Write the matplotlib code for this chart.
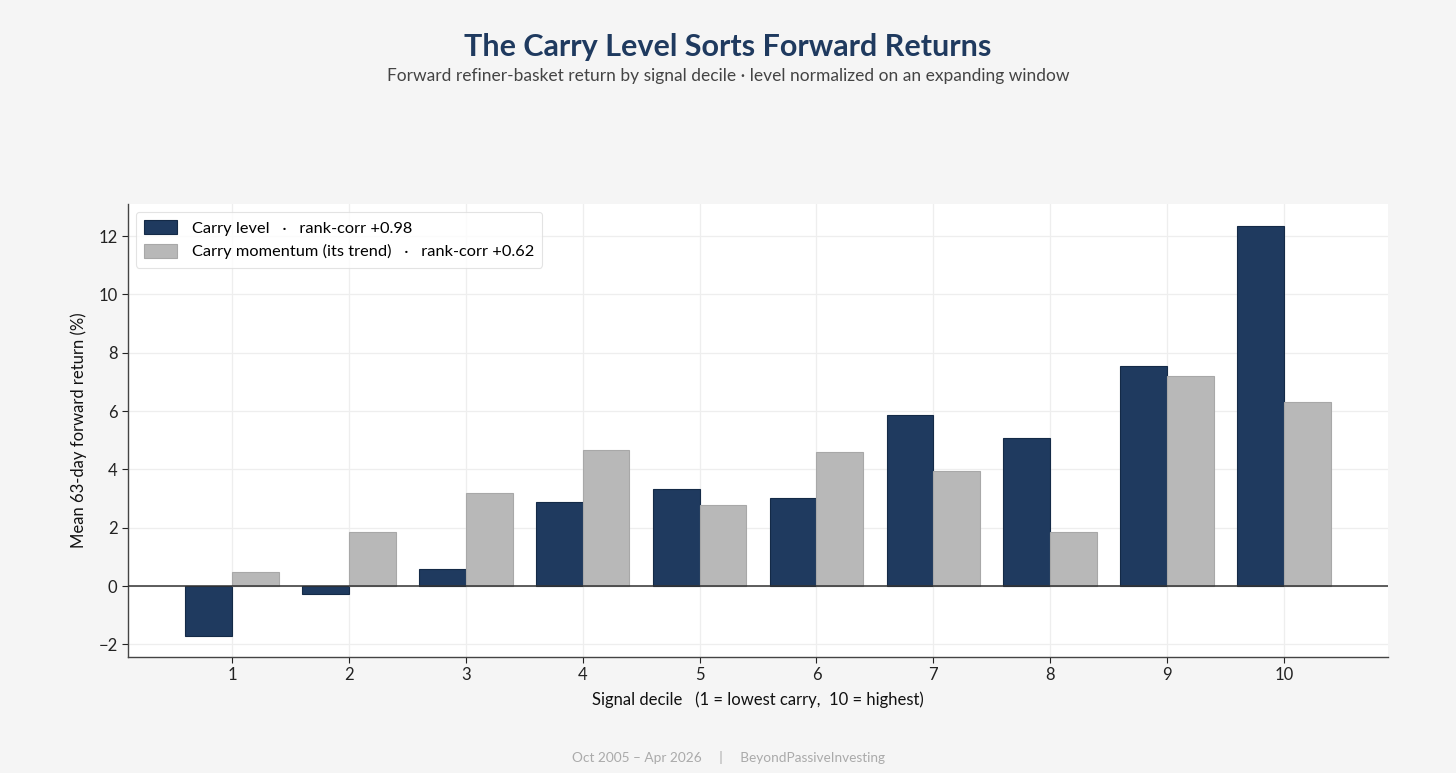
import numpy as np
import matplotlib.pyplot as plt

# Values
deciles = np.arange(1, 11)
carry_level = [-1.71, -0.27, 0.58, 2.88, 3.33, 3.02, 5.86, 5.07, 7.54, 12.34]
carry_momentum = [0.50, 1.87, 3.19, 4.66, 2.78, 4.59, 3.94, 1.87, 7.20, 6.31]
level_label = "Carry level   ·   rank-corr +0.98"
momentum_label = "Carry momentum (its trend)   ·   rank-corr +0.62"

NAVY = "#1f3a5f"
GREY = "#b8b8b8"
BG = "#f5f5f5"

plt.rcParams["font.family"] = ["Lato", "DejaVu Sans"]

fig = plt.figure(figsize=(14.56, 7.73), dpi=100, facecolor=BG)
ax = fig.add_axes([128 / 1456, 1 - 657 / 773, 1260 / 1456, 453 / 773])
ax.set_facecolor("white")

width = 0.4
ax.bar(deciles - width, carry_level, width=width, align="edge", color=NAVY,
       edgecolor="#142a47", linewidth=0.8, label=level_label, zorder=3)
ax.bar(deciles, carry_momentum, width=width, align="edge", color=GREY,
       edgecolor="#a8a8a8", linewidth=0.8, label=momentum_label, zorder=3)

ax.axhline(0, color="#333333", linewidth=1.1, zorder=4)

ax.set_xlim(0.11, 10.89)
ax.set_ylim(-2.43, 13.1)
ax.set_xticks(deciles)
ax.set_yticks(np.arange(-2, 13, 2))
ax.set_yticklabels([f"{v}" if v >= 0 else f"\u2212{-v}" for v in range(-2, 13, 2)])
ax.tick_params(axis="both", labelsize=12, colors="#222222", length=4)

ax.grid(True, color="#eeeeee", linewidth=0.9, zorder=0)
ax.set_axisbelow(True)
for side in ("top", "right"):
    ax.spines[side].set_visible(False)
for side in ("left", "bottom"):
    ax.spines[side].set_color("#444444")
    ax.spines[side].set_linewidth(1.0)

ax.set_xlabel("Signal decile   (1 = lowest carry,  10 = highest)", fontsize=12,
              color="#111111", labelpad=6)
ax.set_ylabel("Mean 63-day forward return (%)", fontsize=12, color="#111111",
              labelpad=8)

leg = ax.legend(loc="upper left", fontsize=11.8, frameon=True, borderpad=0.5,
                handlelength=2.0, handleheight=0.9, handletextpad=0.9)
leg.get_frame().set_edgecolor("#dddddd")
leg.get_frame().set_linewidth(0.8)

fig.text(0.5, 1 - 47 / 773, "The Carry Level Sorts Forward Returns", ha="center",
         va="center", fontsize=22, fontweight="bold", color=NAVY)
fig.text(0.5, 1 - 76 / 773,
         "Forward refiner-basket return by signal decile · level normalized on an expanding window",
         ha="center", va="center", fontsize=12.5, color="#444444")
fig.text(0.5, 1 - 757 / 773, "Oct 2005 – Apr 2026     |     BeyondPassiveInvesting",
         ha="center", va="center", fontsize=9.8, color="#aaaaaa")

fig.savefig("out.png", dpi=100, facecolor=BG)
